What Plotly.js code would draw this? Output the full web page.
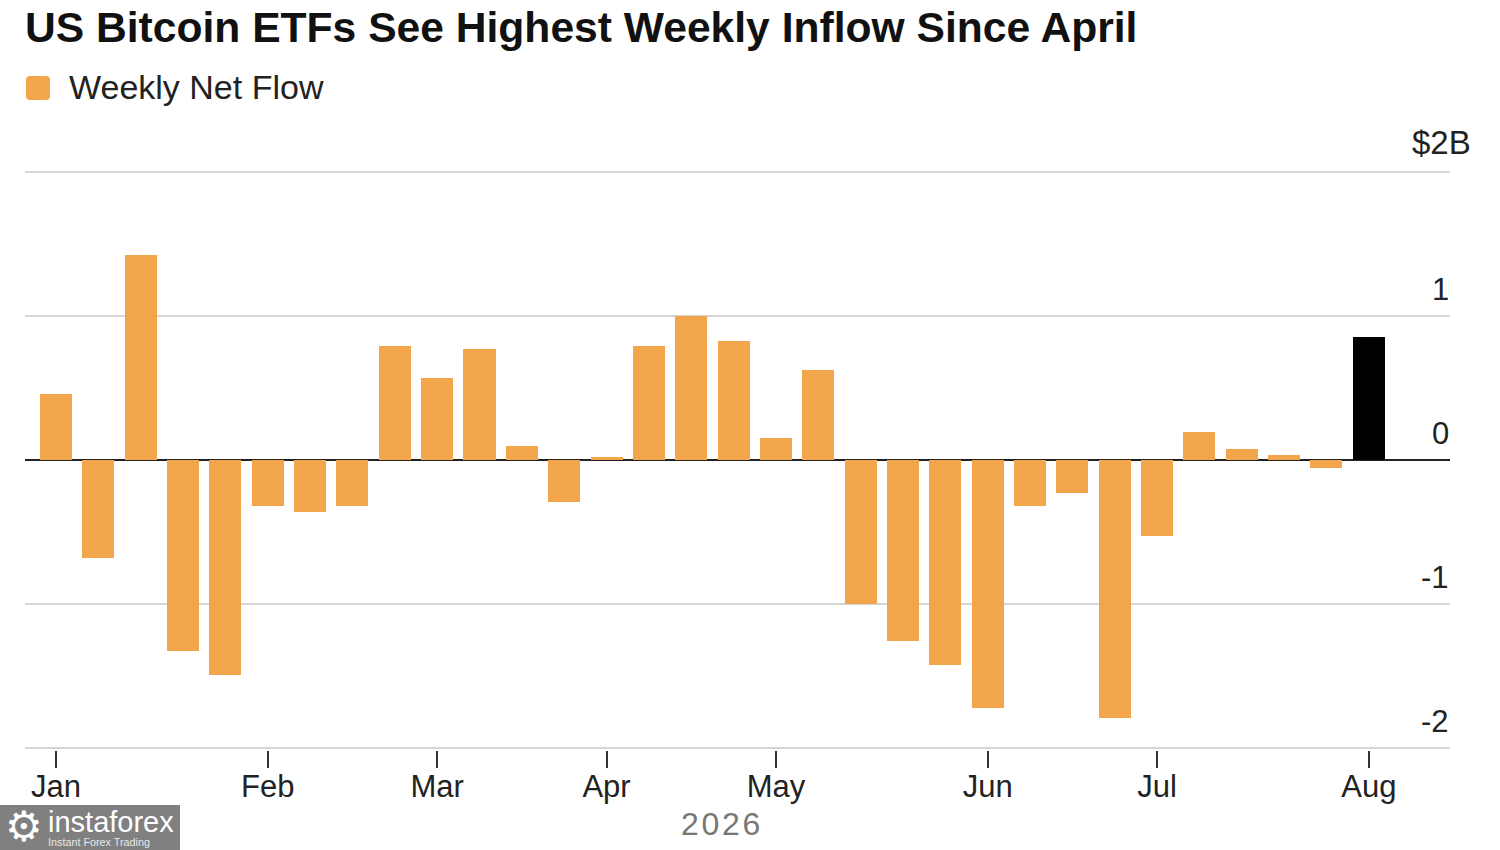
<!DOCTYPE html>
<html>
<head>
<meta charset="utf-8">
<script src="https://cdn.plot.ly/plotly-3.0.1.min.js"></script>
<style>html,body{margin:0;padding:0;background:#fff}</style>
</head>
<body>
<div id="graph" style="width:1500px;height:850px"></div>
<script>
const weeks = ["2026-01-02","2026-01-09","2026-01-16","2026-01-23","2026-01-30","2026-02-06","2026-02-13","2026-02-20","2026-02-27","2026-03-06","2026-03-13","2026-03-20","2026-03-27","2026-04-03","2026-04-10","2026-04-17","2026-04-24","2026-05-01","2026-05-08","2026-05-15","2026-05-22","2026-05-29","2026-06-05","2026-06-12","2026-06-19","2026-06-26","2026-07-03","2026-07-10","2026-07-17","2026-07-24","2026-07-31","2026-08-07"];
const net_flow = [0.457,-0.68,1.42,-1.33,-1.495,-0.32,-0.36,-0.32,0.79,0.57,0.77,0.096,-0.295,0.02,0.79,1.00,0.825,0.15,0.625,-1.00,-1.26,-1.425,-1.725,-0.32,-0.23,-1.795,-0.53,0.195,0.076,0.035,-0.06,0.85];
const month_ticks = ["2026-01-02","2026-02-06","2026-03-06","2026-04-03","2026-05-01","2026-06-05","2026-07-03","2026-08-07"];
const month_labels = ["Jan","Feb","Mar","Apr","May","Jun","Jul","Aug"];
const y_ticks = [2,1,0,-1,-2];
const y_labels = ["$2B","1","0","-1","-2"];

const font = "'Liberation Sans', Arial, sans-serif";
const W = 1500, H = 850, m = {l:25, r:50, t:170, b:100, pad:0};
const px = x => (x - m.l) / (W - m.l - m.r);          // page pixels to paper coords
const py = y => (H - m.b - y) / (H - m.t - m.b);
const DAY = 86400000;

function text(x, y, str, size, color, anchor){
    return {xref:'paper', yref:'paper', x:px(x), y:py(y), text:str, showarrow:false, xanchor:anchor || 'left', yanchor:'middle', font:{family:font, size:size, color:color}};
}

const colors = net_flow.map((v, i) => i === net_flow.length - 1 ? '#000000' : '#f2a54a');
const traces = [{type:'bar', x:weeks, y:net_flow, width:32 / 42.33 * 7 * DAY, marker:{color:colors, line:{width:0}}, hoverinfo:'x+y'}];

const annotations = [
    text(23, 27, "<b>US Bitcoin ETFs See Highest Weekly Inflow Since April</b>", 42.6, '#111'),
    text(67, 87, "Weekly Net Flow", 34, '#222'),
    text(720, 824, "2\u200a0\u200a2\u200a6", 32, '#777', 'center'),
    text(46, 822, "instaforex", 29, '#fff'),
    text(46, 842, "Instant Forex Trading", 10.8, '#e8e8e8'),
    text(24, 826, "\u2699", 42, '#fff', 'center')
];
y_ticks.forEach((v, i) => annotations.push({xref:'paper', yref:'y', x:1, y:v, text:y_labels[i], showarrow:false, xanchor:'right', yanchor:'bottom', xshift:i === 0 ? 23 : 1, yshift:i === 0 ? 9 : 7, font:{family:font, size:i === 0 ? 33 : 31, color:'#222'}}));

const layout = {
    width:W, height:H, margin:m, paper_bgcolor:'#fff', plot_bgcolor:'#fff', showlegend:false, bargap:0,
    xaxis:{type:'date', range:["2025-12-27 21:00", "2026-08-20 10:00"], tickmode:'array', tickvals:month_ticks, ticktext:month_labels, ticks:'outside', ticklen:17, tickwidth:2, tickcolor:'#333', ticklabelstandoff:-8, showgrid:false, showline:false, zeroline:false, tickfont:{family:font, size:31, color:'#222'}},
    yaxis:{range:[-2.0139,2.0104], tickmode:'array', tickvals:y_ticks, showticklabels:false, ticks:'', showgrid:true, gridcolor:'#d6d6d6', gridwidth:2, zeroline:true, zerolinecolor:'#222', zerolinewidth:2, showline:false},
    annotations:annotations,
    shapes:[
        {type:'rect', xref:'paper', yref:'paper', x0:px(0), x1:px(180), y0:py(805), y1:py(850), fillcolor:'#808080', line:{width:0}},
        {type:'path', xref:'paper', yref:'paper', fillcolor:'#f2a54a', line:{width:0},
         path:`M ${px(30)} ${py(76)} L ${px(46)} ${py(76)} Q ${px(50)} ${py(76)} ${px(50)} ${py(80)} L ${px(50)} ${py(96)} Q ${px(50)} ${py(100)} ${px(46)} ${py(100)} L ${px(30)} ${py(100)} Q ${px(26)} ${py(100)} ${px(26)} ${py(96)} L ${px(26)} ${py(80)} Q ${px(26)} ${py(76)} ${px(30)} ${py(76)} Z`}
    ]
};
const config = {responsive:false, displayModeBar:false};
Plotly.newPlot('graph', traces, layout, config);
</script>
</body>
</html>
